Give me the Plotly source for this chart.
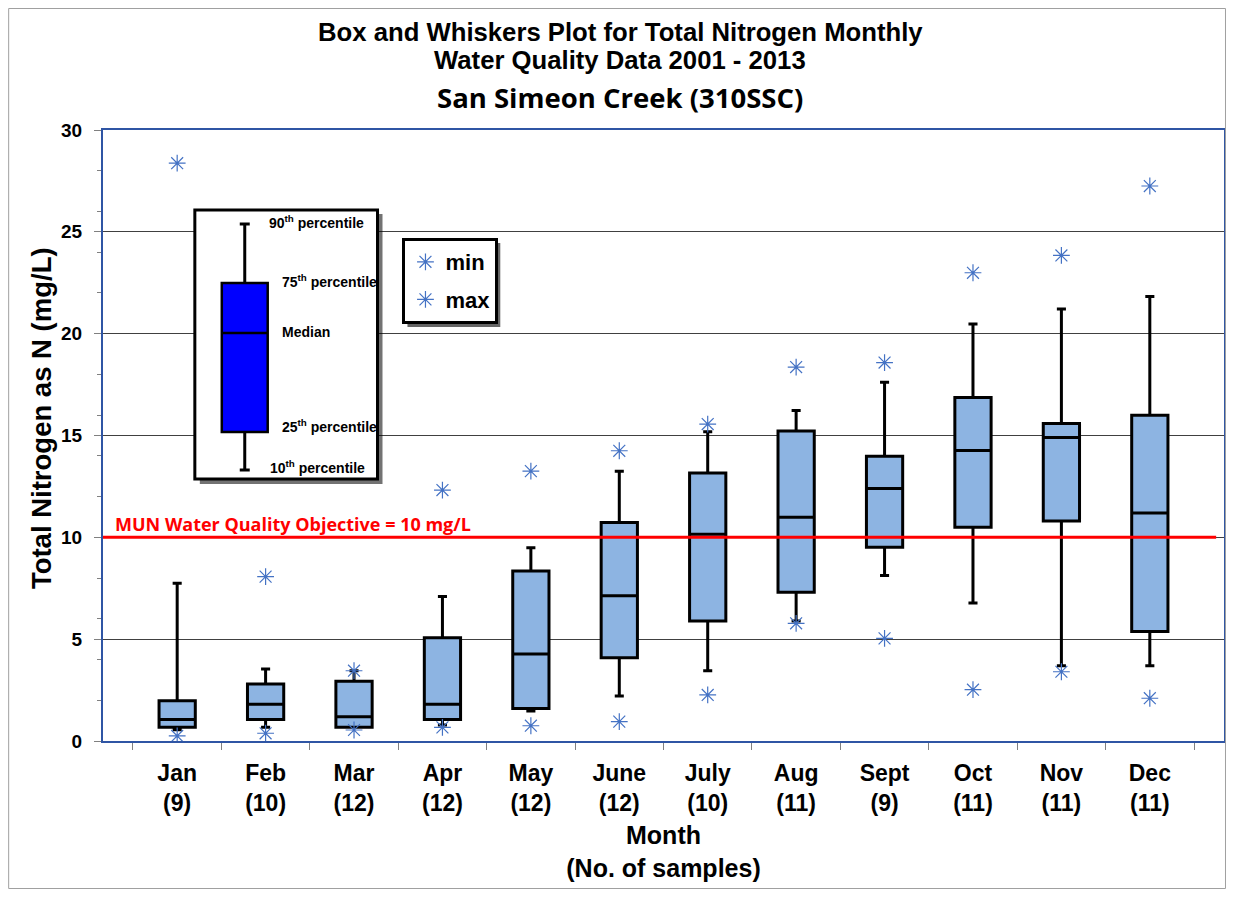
import plotly.graph_objects as go

# values (mg/L)
months = ["Jan", "Feb", "Mar", "Apr", "May", "June", "July", "Aug", "Sept", "Oct", "Nov", "Dec"]
n_samples = [9, 10, 12, 12, 12, 12, 10, 11, 9, 11, 11, 11]
p10 = [0.55, 0.67, 0.67, 0.79, 1.47, 2.21, 3.45, 5.89, 8.12, 6.77, 3.69, 3.69]
q1 = [0.67, 1.06, 0.67, 1.06, 1.60, 4.09, 5.89, 7.30, 9.51, 10.50, 10.80, 5.38]
median = [1.06, 1.80, 1.19, 1.80, 4.27, 7.13, 10.15, 10.98, 12.40, 14.26, 14.90, 11.20]
q3 = [1.98, 2.80, 2.93, 5.07, 8.35, 10.73, 13.16, 15.22, 13.98, 16.87, 15.59, 16.00]
p90 = [7.74, 3.53, 3.45, 7.09, 9.49, 13.24, 15.18, 16.23, 17.62, 20.47, 21.21, 21.83]
min_vals = [0.25, 0.38, 0.54, 0.67, 0.75, 0.95, 2.26, 5.78, 5.04, 2.52, 3.40, 2.10]
max_vals = [28.37, 8.07, 3.45, 12.32, 13.25, 14.25, 15.56, 18.36, 18.58, 22.99, 23.84, 27.25]
objective = 10

tick_text = [f"<b>{m}<br>({n})</b>" for m, n in zip(months, n_samples)]

# page body has an 8px margin, so the figure is a bit smaller than the window
OFF = 8
W, H = 1236 - 2 * OFF, 897 - 2 * OFF
L, R, T, B = 103 - OFF, 2, 130 - OFF, 148
PW, PH = W - L - R, H - T - B


# screen pixel -> paper coords (for the decorative key / labels)
def px(x):
    return (x - OFF - L) / PW


def py(y):
    return (H - B - (y - OFF)) / PH


FONT = "Arial, Liberation Sans, sans-serif"
CAL = "Open Sans, sans-serif"
STAR = "#4472C4"

fig = go.Figure()

fig.add_trace(go.Box(
    x=months, q1=q1, median=median, q3=q3,
    lowerfence=p10, upperfence=p90,
    width=0.41, whiskerwidth=0.25,
    fillcolor="#8DB4E2", line=dict(color="black", width=3),
    showlegend=False, hoverinfo="skip",
))

for name, vals, grp in [("min", min_vals, "a"), ("max", max_vals, "b")]:
    fig.add_trace(go.Scatter(
        x=months, y=vals, mode="markers", name=f"<b>{name}</b>", legendgroup=grp,
        marker=dict(symbol="asterisk-open", size=14, color=STAR,
                    line=dict(color=STAR, width=1.2)),
    ))

shapes = []
# objective line
shapes.append(dict(type="line", xref="paper", yref="y", x0=0, x1=0.993,
                   y0=objective, y1=objective, line=dict(color="#FF0000", width=3)))

# key diagram (explanation of box)
shapes.append(dict(type="rect", xref="paper", yref="paper", x0=px(200), x1=px(383),
                   y0=py(484), y1=py(214), fillcolor="rgba(0,0,0,0.55)", line=dict(width=0),
                   layer="above"))
shapes.append(dict(type="rect", xref="paper", yref="paper", x0=px(195), x1=px(378),
                   y0=py(479), y1=py(210), fillcolor="white", line=dict(color="black", width=3),
                   layer="above"))
shapes.append(dict(type="line", xref="paper", yref="paper", x0=px(245), x1=px(245),
                   y0=py(470), y1=py(224), line=dict(color="black", width=3), layer="above"))
for yy in (224, 470):
    shapes.append(dict(type="line", xref="paper", yref="paper", x0=px(240), x1=px(250),
                       y0=py(yy), y1=py(yy), line=dict(color="black", width=3), layer="above"))
shapes.append(dict(type="rect", xref="paper", yref="paper", x0=px(222), x1=px(268),
                   y0=py(432), y1=py(283), fillcolor="#0000FF", line=dict(color="black", width=2.5),
                   layer="above"))
shapes.append(dict(type="line", xref="paper", yref="paper", x0=px(222), x1=px(268),
                   y0=py(333), y1=py(333), line=dict(color="black", width=2.5), layer="above"))

# legend shadow
shapes.append(dict(type="rect", xref="paper", yref="paper", x0=px(408), x1=px(501),
                   y0=py(327), y1=py(243), fillcolor="rgba(0,0,0,0.6)", line=dict(width=0),
                   layer="above"))

# outer frame along the figure edge
shapes.append(dict(type="rect", xref="paper", yref="paper", x0=px(8.5), x1=px(1227.5),
                   y0=py(888.5), y1=py(8.5), line=dict(color="#A0A0A0", width=1)))

annotations = []
key_labels = [
    ("90<sup>th</sup> percentile", 267, 222),
    ("75<sup>th</sup> percentile", 280, 281),
    ("Median", 280, 332),
    ("25<sup>th</sup> percentile", 280, 426),
    ("10<sup>th</sup> percentile", 268, 467),
]
for txt, xx, yy in key_labels:
    annotations.append(dict(text=f"<b>{txt}</b>", xref="paper", yref="paper",
                            x=px(xx), y=py(yy), xanchor="left", yanchor="middle",
                            showarrow=False, font=dict(family=FONT, size=14, color="black")))

annotations.append(dict(text="<b>MUN Water Quality Objective = 10 mg/L</b>", xref="paper",
                        yref="paper", x=px(113), y=py(524), xanchor="left", yanchor="middle",
                        showarrow=False, font=dict(family=CAL, size=18, color="#FF0000")))

titles = [
    ("Box and Whiskers Plot for Total Nitrogen Monthly", 32, 25.7, FONT),
    ("Water Quality Data 2001 - 2013", 60, 25.7, FONT),
    ("San Simeon Creek (310SSC)", 97, 27.5, CAL),
]
for txt, yy, sz, fam in titles:
    annotations.append(dict(text=f"<b>{txt}</b>", xref="paper", yref="paper",
                            x=px(621), y=py(yy), xanchor="center", yanchor="middle",
                            showarrow=False, font=dict(family=fam, size=sz, color="black")))

# y axis title placed by hand (sits a little above the plot centre)
annotations.append(dict(text="<b>Total Nitrogen as N (mg/L)</b>", xref="paper", yref="paper",
                        x=px(42), y=py(418), textangle=-90, xanchor="center", yanchor="middle",
                        showarrow=False, font=dict(family=FONT, size=27.5, color="black")))

fig.update_layout(
    width=W, height=H,
    margin=dict(l=L, r=R, t=T, b=B),
    paper_bgcolor="white", plot_bgcolor="white",
    font=dict(family=FONT, color="black"),
    shapes=shapes, annotations=annotations,
    legend=dict(x=px(403), y=py(238), xanchor="left", yanchor="top",
                bgcolor="white", bordercolor="black", borderwidth=3,
                font=dict(family=FONT, size=22, color="black"),
                tracegroupgap=6, itemwidth=30),
)

fig.update_xaxes(
    type="category", tickmode="array", tickvals=months, ticktext=tick_text,
    tickson="boundaries", ticks="outside", ticklen=7, tickcolor="#808080",
    tickfont=dict(family=FONT, size=23), ticklabelstandoff=10,
    showline=True, linecolor="#2F55A4", linewidth=2, mirror=True,
    showgrid=False,
    title=dict(text="<b>Month<br>(No. of samples)</b>", font=dict(family=FONT, size=25), standoff=12),
)
fig.update_yaxes(
    range=[0, 30], dtick=5, ticks="outside", ticklen=7, tickcolor="#808080",
    minor=dict(dtick=2, ticks="outside", ticklen=4, tickcolor="#808080", showgrid=False),
    tickfont=dict(family=FONT, size=19), tickprefix="<b>", ticksuffix="</b>",
    ticklabelstandoff=8,
    showgrid=True, gridcolor="#404040", gridwidth=1, zeroline=False,
    showline=True, linecolor="#2F55A4", linewidth=2, mirror=True,
)

fig.write_html("out.html")
